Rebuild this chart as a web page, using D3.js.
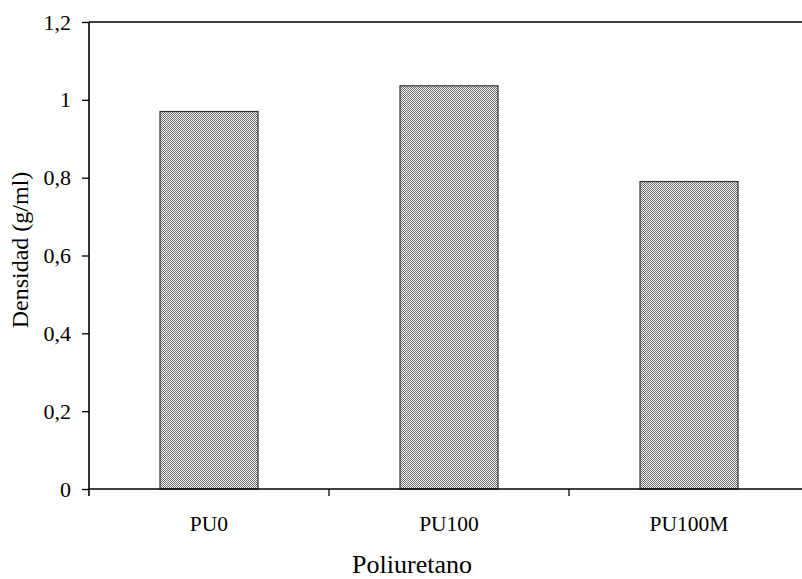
<!DOCTYPE html>
<html><head><meta charset="utf-8">
<script src="https://cdn.jsdelivr.net/npm/d3@7"></script>
<style>body{margin:0;background:#fff}svg{display:block}text{font-family:"Liberation Serif","Times New Roman",serif;fill:#000}</style>
</head><body>
<svg id="c" width="802" height="579"></svg>
<script>
const categories = ["PU0", "PU100", "PU100M"];
const densidad = [0.97, 1.036, 0.79];
const yTicks = [0, 0.2, 0.4, 0.6, 0.8, 1, 1.2];

const svg = d3.select("#c");
const pLeft = 89, pRight = 809, pTop = 22, pBottom = 489;

const defs = svg.append("defs");
const pat = defs.append("pattern").attr("id","chk").attr("patternUnits","userSpaceOnUse")
  .attr("width",2).attr("height",2);
pat.append("rect").attr("width",2).attr("height",2).attr("fill","#f4f4f4");
pat.append("rect").attr("x",0).attr("y",0).attr("width",1).attr("height",1).attr("fill","#6e6e6e");
pat.append("rect").attr("x",1).attr("y",1).attr("width",1).attr("height",1).attr("fill","#6e6e6e");

const x = d3.scaleBand().domain(categories).range([pLeft,pRight]).paddingInner(0.5917).paddingOuter(0.2958);
const y = d3.scaleLinear().domain([0,1.2]).range([pBottom,pTop]);

// bars
svg.selectAll("rect.bar").data(categories).enter().append("rect")
  .attr("class","bar")
  .attr("x", d => x(d)).attr("width", x.bandwidth())
  .attr("y", (d,i) => y(densidad[i])).attr("height", (d,i) => y(0) - y(densidad[i]))
  .attr("fill","url(#chk)").attr("stroke","#333").attr("stroke-width",1.2);

// top line
svg.append("line").attr("x1",pLeft).attr("x2",802).attr("y1",pTop).attr("y2",pTop)
  .attr("stroke","#000").attr("stroke-width",1.6);

// y axis
const yAxis = d3.axisLeft(y).tickValues(yTicks).tickSize(7).tickPadding(11)
  .tickFormat(d => d3.format("~g")(d).replace(".", ","));
const gy = svg.append("g").attr("transform",`translate(${pLeft},0)`).call(yAxis);
gy.select(".domain").attr("stroke","#000").attr("stroke-width",1.6).attr("d",`M0,${pTop}V${pBottom+7}`);
gy.selectAll(".tick line").attr("stroke","#000").attr("stroke-width",1.3);
gy.selectAll(".tick text").attr("font-size",22).attr("font-family","Liberation Serif");

// x axis
const step = x.step();
const bounds = d3.range(categories.length).map(i => pLeft + step*i);
svg.append("line").attr("x1",pLeft).attr("x2",802).attr("y1",pBottom).attr("y2",pBottom)
  .attr("stroke","#000").attr("stroke-width",1.6);
svg.selectAll("line.xt").data(bounds.slice(1)).enter().append("line")
  .attr("class","xt").attr("x1",d=>d).attr("x2",d=>d).attr("y1",pBottom).attr("y2",pBottom+7)
  .attr("stroke","#000").attr("stroke-width",1.3);
svg.selectAll("text.xl").data(categories).enter().append("text")
  .attr("class","xl").attr("x", d => x(d) + x.bandwidth()/2).attr("y",531)
  .attr("text-anchor","middle").attr("font-size",21.5).text(d=>d);

svg.append("text").attr("x",412).attr("y",573).attr("text-anchor","middle").attr("font-size",26).text("Poliuretano");
svg.append("text").attr("transform","translate(28,250) rotate(-90)").attr("text-anchor","middle")
  .attr("font-size",24).text("Densidad (g/ml)");
</script>
</body></html>
